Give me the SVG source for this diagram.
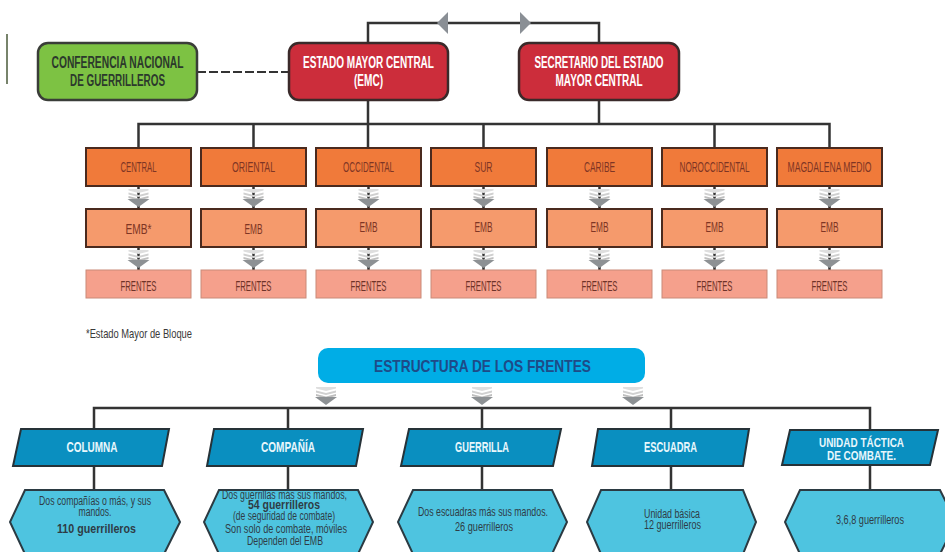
<svg xmlns="http://www.w3.org/2000/svg" xmlns:xlink="http://www.w3.org/1999/xlink" width="945" height="552" viewBox="0 0 945 552">
<style>
text{font-family:"Liberation Sans",Arial,sans-serif;text-anchor:middle}
.b{font-weight:bold}
.top{font-size:16px;font-weight:bold}
.lbl{font-size:15px;fill:#7e3524}
.lbl3{font-size:15px;fill:#6e3328}
.ptxt{font-size:15px;font-weight:bold;fill:#e8f7fc}
.htxt{font-size:13px;fill:#2e3c46}
.sm{font-size:12px}
.line{stroke:#333;stroke-width:2.5;fill:none}
.r1{fill:#f07a3a;stroke:#4a2a1e;stroke-width:2}
.r2{fill:#f59a6c;stroke:#4a2a1e;stroke-width:2}
.r3{fill:#f5a08c;stroke:#c98a78;stroke-width:1}
.para{fill:#0a8fc0;stroke:#263238;stroke-width:2}
.hex{fill:#4ec4e0;stroke:#2b3a42;stroke-width:2}
</style>
<defs>
<g id="dn">
<path d="M-10,0H10V1.5L0,4L-10,1.5Z" fill="#dedede"/>
<path d="M-10,3.5L0,6L10,3.5V5.5L0,8L-10,5.5Z" fill="#d0d0d0"/>
<path d="M-10,7L0,9.5L10,7V9L0,11.5L-10,9Z" fill="#bebebe"/>
<path d="M-11,10H11L0,18Z" fill="#8d9194"/>
</g>
</defs>
<rect width="945" height="552" fill="#fff"/>
<line x1="7" y1="34" x2="7" y2="84" stroke="#4a5a3a" stroke-width="1.5"/>

<g id="connectors">
<path class="line" d="M368,43V23H599V43"/>
<polygon points="437,23 448,12 448,34" fill="#8a8f95"/>
<polygon points="531,23 520,12 520,34" fill="#8a8f95"/>
<line x1="197" y1="72" x2="289" y2="72" stroke="#333" stroke-width="2" stroke-dasharray="9 3"/>
<path class="line" d="M368,100V148M599,100V124M138.5,148V124H829.5V148M253.5,124V148M483.5,124V148M714.5,124V148"/>
<path class="line" d="M138.5,186V209M253.5,186V209M368.5,186V209M483.5,186V209M599.5,186V209M714.5,186V209M829.5,186V209"/>
<path class="line" d="M138.5,247V270M253.5,247V270M368.5,247V270M483.5,247V270M599.5,247V270M714.5,247V270M829.5,247V270"/>
<use xlink:href="#dn" x="138.5" y="189"/><use xlink:href="#dn" x="253.5" y="189"/><use xlink:href="#dn" x="368.5" y="189"/><use xlink:href="#dn" x="483.5" y="189"/><use xlink:href="#dn" x="599.5" y="189"/><use xlink:href="#dn" x="714.5" y="189"/><use xlink:href="#dn" x="829.5" y="189"/>
<use xlink:href="#dn" x="138.5" y="250"/><use xlink:href="#dn" x="253.5" y="250"/><use xlink:href="#dn" x="368.5" y="250"/><use xlink:href="#dn" x="483.5" y="250"/><use xlink:href="#dn" x="599.5" y="250"/><use xlink:href="#dn" x="714.5" y="250"/><use xlink:href="#dn" x="829.5" y="250"/>
<use xlink:href="#dn" x="326" y="387"/><use xlink:href="#dn" x="482" y="387"/><use xlink:href="#dn" x="633" y="387"/>
<path class="line" d="M94,429V408H870V429M288,408V429M482,408V429M671,408V429"/>
<path class="line" d="M94,466V490M288,466V490M482,466V490M671,466V490M870,466V490"/>
</g>

<g id="conferencia">
<rect x="38" y="43" width="159" height="57" rx="10" fill="#7dc243" stroke="#3a3d38" stroke-width="2.5"/>
<text class="top" x="117.5" y="68" fill="#2c392c" textLength="132" lengthAdjust="spacingAndGlyphs">CONFERENCIA NACIONAL</text>
<text class="top" x="117.5" y="86" fill="#2c392c" textLength="95" lengthAdjust="spacingAndGlyphs">DE GUERRILLEROS</text>
</g>
<g id="emc">
<rect x="289" y="43" width="159" height="57" rx="10" fill="#cc2d3b" stroke="#3a2a2a" stroke-width="2.5"/>
<text class="top" x="368.5" y="68" fill="#fff" textLength="131" lengthAdjust="spacingAndGlyphs">ESTADO MAYOR CENTRAL</text>
<text class="top" x="368.5" y="86" fill="#fff" textLength="29" lengthAdjust="spacingAndGlyphs">(EMC)</text>
</g>
<g id="secretario">
<rect x="519" y="43" width="160" height="57" rx="10" fill="#cc2d3b" stroke="#3a2a2a" stroke-width="2.5"/>
<text class="top" x="599" y="68" fill="#fff" textLength="129" lengthAdjust="spacingAndGlyphs">SECRETARIO DEL ESTADO</text>
<text class="top" x="599" y="86" fill="#fff" textLength="87" lengthAdjust="spacingAndGlyphs">MAYOR CENTRAL</text>
</g>

<g id="central"><rect class="r1" x="86" y="148" width="105" height="38"/><text class="lbl" x="138.5" y="172" textLength="36" lengthAdjust="spacingAndGlyphs">CENTRAL</text></g>
<g id="oriental"><rect class="r1" x="201" y="148" width="105" height="38"/><text class="lbl" x="253.5" y="172" textLength="43" lengthAdjust="spacingAndGlyphs">ORIENTAL</text></g>
<g id="occidental"><rect class="r1" x="316" y="148" width="105" height="38"/><text class="lbl" x="368.5" y="172" textLength="51" lengthAdjust="spacingAndGlyphs">OCCIDENTAL</text></g>
<g id="sur"><rect class="r1" x="431" y="148" width="105" height="38"/><text class="lbl" x="483.5" y="172" textLength="18" lengthAdjust="spacingAndGlyphs">SUR</text></g>
<g id="caribe"><rect class="r1" x="547" y="148" width="105" height="38"/><text class="lbl" x="599.5" y="172" textLength="31" lengthAdjust="spacingAndGlyphs">CARIBE</text></g>
<g id="noroccidental"><rect class="r1" x="662" y="148" width="105" height="38"/><text class="lbl" x="714.5" y="172" textLength="70" lengthAdjust="spacingAndGlyphs">NOROCCIDENTAL</text></g>
<g id="magdalena"><rect class="r1" x="777" y="148" width="105" height="38"/><text class="lbl" x="829.5" y="172" textLength="84" lengthAdjust="spacingAndGlyphs">MAGDALENA MEDIO</text></g>

<g id="emb1"><rect class="r2" x="86" y="209" width="105" height="38"/><text class="lbl" x="138.5" y="234" textLength="26" lengthAdjust="spacingAndGlyphs">EMB*</text></g>
<g id="emb2"><rect class="r2" x="201" y="209" width="105" height="38"/><text class="lbl" x="253.5" y="234" textLength="18" lengthAdjust="spacingAndGlyphs">EMB</text></g>
<g id="emb3"><rect class="r2" x="316" y="209" width="105" height="38"/><text class="lbl" x="368.5" y="232" textLength="18" lengthAdjust="spacingAndGlyphs">EMB</text></g>
<g id="emb4"><rect class="r2" x="431" y="209" width="105" height="38"/><text class="lbl" x="483.5" y="232" textLength="18" lengthAdjust="spacingAndGlyphs">EMB</text></g>
<g id="emb5"><rect class="r2" x="547" y="209" width="105" height="38"/><text class="lbl" x="599.5" y="232" textLength="18" lengthAdjust="spacingAndGlyphs">EMB</text></g>
<g id="emb6"><rect class="r2" x="662" y="209" width="105" height="38"/><text class="lbl" x="714.5" y="232" textLength="18" lengthAdjust="spacingAndGlyphs">EMB</text></g>
<g id="emb7"><rect class="r2" x="777" y="209" width="105" height="38"/><text class="lbl" x="829.5" y="232" textLength="18" lengthAdjust="spacingAndGlyphs">EMB</text></g>

<g id="frentes1"><rect class="r3" x="86" y="270" width="105" height="28"/><text class="lbl3" x="138.5" y="291" textLength="36" lengthAdjust="spacingAndGlyphs">FRENTES</text></g>
<g id="frentes2"><rect class="r3" x="201" y="270" width="105" height="28"/><text class="lbl3" x="253.5" y="291" textLength="36" lengthAdjust="spacingAndGlyphs">FRENTES</text></g>
<g id="frentes3"><rect class="r3" x="316" y="270" width="105" height="28"/><text class="lbl3" x="368.5" y="291" textLength="36" lengthAdjust="spacingAndGlyphs">FRENTES</text></g>
<g id="frentes4"><rect class="r3" x="431" y="270" width="105" height="28"/><text class="lbl3" x="483.5" y="291" textLength="36" lengthAdjust="spacingAndGlyphs">FRENTES</text></g>
<g id="frentes5"><rect class="r3" x="547" y="270" width="105" height="28"/><text class="lbl3" x="599.5" y="291" textLength="36" lengthAdjust="spacingAndGlyphs">FRENTES</text></g>
<g id="frentes6"><rect class="r3" x="662" y="270" width="105" height="28"/><text class="lbl3" x="714.5" y="291" textLength="36" lengthAdjust="spacingAndGlyphs">FRENTES</text></g>
<g id="frentes7"><rect class="r3" x="777" y="270" width="105" height="28"/><text class="lbl3" x="829.5" y="291" textLength="36" lengthAdjust="spacingAndGlyphs">FRENTES</text></g>

<text x="86" y="338" style="text-anchor:start;font-size:13px" fill="#3a3a3a" textLength="106" lengthAdjust="spacingAndGlyphs">*Estado Mayor de Bloque</text>

<g id="estructura">
<rect x="318" y="348" width="327" height="35" rx="10" fill="#00ade6"/>
<text x="482.5" y="372" style="font-size:17px;font-weight:bold" fill="#1e4b88" textLength="217" lengthAdjust="spacingAndGlyphs">ESTRUCTURA DE LOS FRENTES</text>
</g>

<g id="columna">
<polygon class="para" points="21,429 169,429 162,466 13,466"/>
<text class="ptxt" x="92" y="452" textLength="51" lengthAdjust="spacingAndGlyphs">COLUMNA</text>
</g>
<g id="compania">
<polygon class="para" points="214,429 363,429 356,466 207,466"/>
<text class="ptxt" x="288" y="452" textLength="54" lengthAdjust="spacingAndGlyphs">COMPAÑÍA</text>
</g>
<g id="guerrilla">
<polygon class="para" points="409,429 561,429 553,466 401,466"/>
<text class="ptxt" x="482" y="452" textLength="54" lengthAdjust="spacingAndGlyphs">GUERRILLA</text>
</g>
<g id="escuadra">
<polygon class="para" points="598,429 749,429 743,466 592,466"/>
<text class="ptxt" x="670.5" y="452" textLength="53" lengthAdjust="spacingAndGlyphs">ESCUADRA</text>
</g>
<g id="unidad">
<polygon class="para" points="790,430 938,430 930,465 782,465"/>
<text class="ptxt" x="861.5" y="447" style="font-size:13px" textLength="85" lengthAdjust="spacingAndGlyphs">UNIDAD TÁCTICA</text>
<text class="ptxt" x="861.5" y="460" style="font-size:13px" textLength="69" lengthAdjust="spacingAndGlyphs">DE COMBATE.</text>
</g>

<g id="hex-columna">
<polygon class="hex" points="25,490 164,490 180,522 164,554 25,554 10,522"/>
<text class="htxt sm" x="95" y="505" textLength="112" lengthAdjust="spacingAndGlyphs">Dos compañías o más, y sus</text>
<text class="htxt sm" x="95" y="516" textLength="33" lengthAdjust="spacingAndGlyphs">mandos.</text>
<text class="htxt b" x="96.5" y="533" textLength="79" lengthAdjust="spacingAndGlyphs">110 guerrilleros</text>
</g>
<g id="hex-compania">
<polygon class="hex" points="219,490 358,490 373,522 358,554 219,554 204,522"/>
<text class="htxt sm" x="284.5" y="499" textLength="125" lengthAdjust="spacingAndGlyphs">Dos guerrillas más sus mandos,</text>
<text class="htxt b" x="284" y="509" textLength="72" lengthAdjust="spacingAndGlyphs">54 guerrilleros</text>
<text class="htxt sm" x="284" y="520" textLength="102" lengthAdjust="spacingAndGlyphs">(de seguridad de combate)</text>
<text class="htxt sm" x="286" y="533" textLength="122" lengthAdjust="spacingAndGlyphs">Son solo de combate, móviles</text>
<text class="htxt sm" x="285" y="545" textLength="76" lengthAdjust="spacingAndGlyphs">Dependen del EMB</text>
</g>
<g id="hex-guerrilla">
<polygon class="hex" points="413,490 552,490 567,522 552,554 413,554 398,522"/>
<text class="htxt" x="483" y="516" textLength="130" lengthAdjust="spacingAndGlyphs">Dos escuadras más sus mandos.</text>
<text class="htxt" x="484" y="531" textLength="58" lengthAdjust="spacingAndGlyphs">26 guerrilleros</text>
</g>
<g id="hex-escuadra">
<polygon class="hex" points="601,490 743,490 756,522 743,554 601,554 587,522"/>
<text class="htxt sm" x="672" y="518" textLength="56" lengthAdjust="spacingAndGlyphs">Unidad básica</text>
<text class="htxt sm" x="672.5" y="529" textLength="57" lengthAdjust="spacingAndGlyphs">12 guerrilleros</text>
</g>
<g id="hex-unidad">
<polygon class="hex" points="800,490 940,490 956,522 940,554 800,554 785,522"/>
<text class="htxt" x="870" y="524" textLength="68" lengthAdjust="spacingAndGlyphs">3,6,8 guerrilleros</text>
</g>
</svg>
